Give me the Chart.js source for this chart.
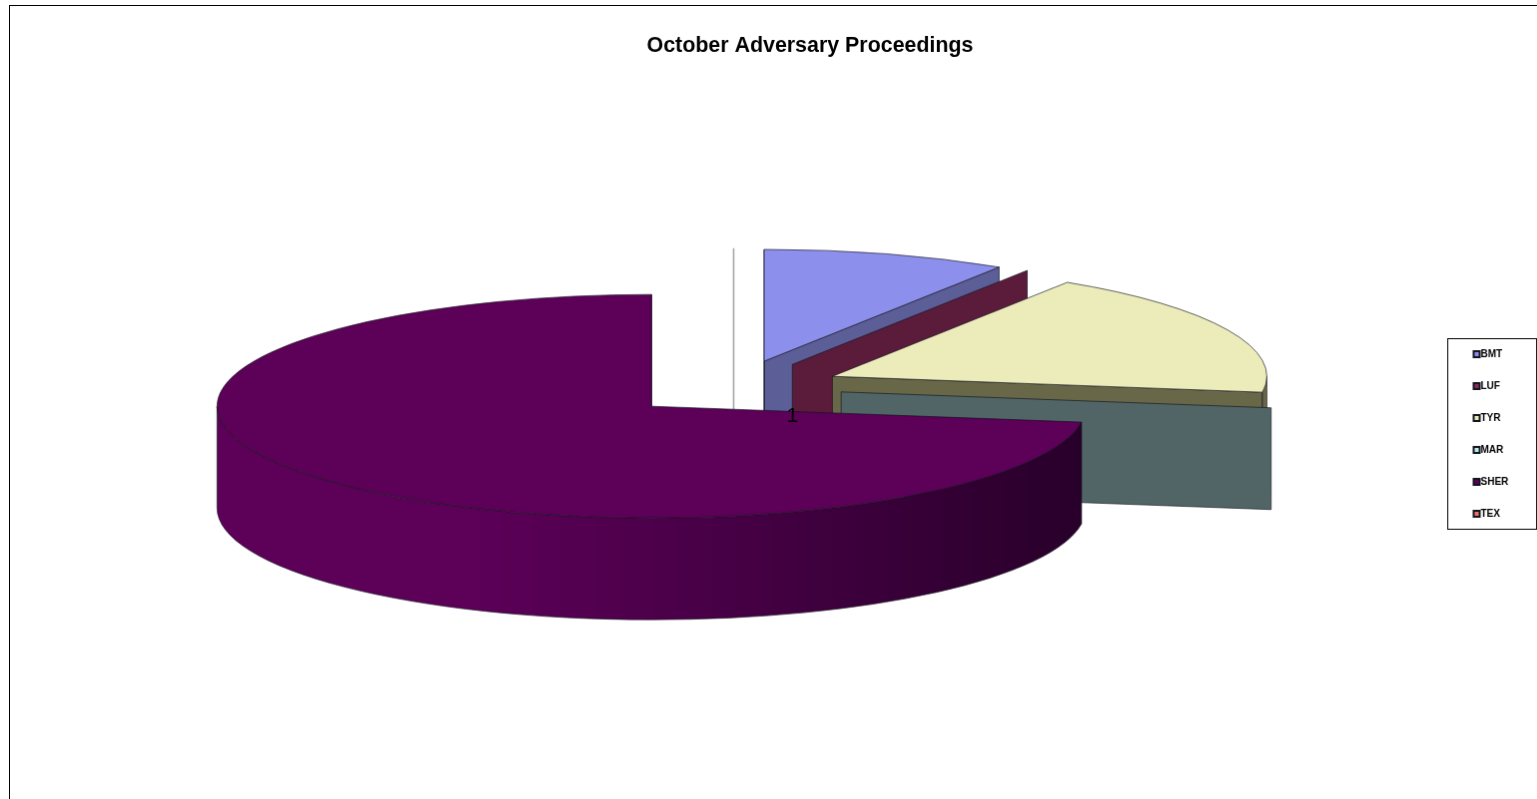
<!DOCTYPE html>
<html>
<head>
<meta charset="utf-8">
<title>October Adversary Proceedings</title>
<script src="https://cdn.jsdelivr.net/npm/chart.js@4"></script>
<style>
  html, body { margin: 0; height: 100%; overflow: hidden; background: #fff; }
  #pieCanvas { position: absolute; left: 9px; top: 5px; border: 1px solid #000; }
</style>
</head>
<body>
<canvas id="pieCanvas" width="1602" height="820"></canvas>
<script>
const categories = ["BMT", "LUF", "TYR", "MAR", "SHER", "TEX"];
const proceedings = [1, 0, 2, 0, 8, 0];
const seriesName = "1";
const topColors = ["#8d8fec", "#8c2a5e", "#ececbb", "#bcecec", "#5c0058", "#ee7468"];
const wallColors = ["#5b5e97", "#5b1c3c", "#686849", "#516566", "#28002a", "#a8a8a8"];

const squash = 112 / 435;  // ellipse height / width
const explode = 0.25;      // share of radius each slice is pulled out
const depth = 102;         // height of the pie wall
const outline = "rgba(20,20,30,0.65)";

// apex of a slice after squashing and explosion
function apex(arc) {
    const mid = (arc.startAngle + arc.endAngle) / 2;
    const off = arc.outerRadius * explode;
    return { x: arc.x + Math.cos(mid) * off, y: arc.y + Math.sin(mid) * off * squash, mid: mid };
}

function radialWall(ctx, p, arc, angle, color) {
    const rx = arc.outerRadius, ry = rx * squash;
    const ex = p.x + Math.cos(angle) * rx, ey = p.y + Math.sin(angle) * ry;
    ctx.save();
    // a zero slice seen edge-on is only a thin grey line
    if (arc.circumference === 0 && Math.abs(Math.cos(angle)) < 1e-9) {
        ctx.strokeStyle = color;
        ctx.lineWidth = 1.6;
    }
    ctx.beginPath();
    ctx.moveTo(p.x, p.y);
    ctx.lineTo(ex, ey);
    ctx.lineTo(ex, ey + depth);
    ctx.lineTo(p.x, p.y + depth);
    ctx.closePath();
    ctx.fillStyle = color;
    ctx.fill();
    ctx.stroke();
    ctx.restore();
}

function outerWall(ctx, p, arc, top, wall) {
    const a0 = Math.max(arc.startAngle, 0), a1 = Math.min(arc.endAngle, Math.PI);
    if (a1 <= a0) return;
    const rx = arc.outerRadius, ry = rx * squash;
    const grad = ctx.createLinearGradient(p.x - rx, 0, p.x + rx, 0);
    grad.addColorStop(0, top);
    grad.addColorStop(0.3, top);
    grad.addColorStop(1, wall);
    ctx.beginPath();
    ctx.ellipse(p.x, p.y, rx, ry, 0, a0, a1);
    ctx.ellipse(p.x, p.y + depth, rx, ry, 0, a1, a0, true);
    ctx.closePath();
    ctx.fillStyle = grad;
    ctx.fill();
    ctx.stroke();
}

const pie3d = {
    id: "pie3d",
    afterLayout(chart) {
        // title is centred on the whole frame, not on the pie
        chart.titleBlock.left = 0;
        chart.titleBlock.right = chart.width;
        // legend sits in its own box on the right, over the chart area
        const lg = chart.legend;
        lg.left = 1443.5; lg.right = 1527; lg.top = 322; lg.bottom = 540;
    },
    beforeDatasetDraw(chart) {
        const ctx = chart.ctx;
        const arcs = chart.getDatasetMeta(0).data.map((arc, i) => ({ arc, i, p: apex(arc) }));
        arcs.sort((a, b) => a.p.y - b.p.y);
        ctx.save();
        ctx.lineWidth = 1;
        ctx.strokeStyle = outline;
        arcs.forEach(({ arc, i, p }) => {
            if (Math.cos(arc.endAngle) > -1e-9) radialWall(ctx, p, arc, arc.endAngle, wallColors[i]);
            else if (Math.cos(arc.startAngle) < 1e-9) radialWall(ctx, p, arc, arc.startAngle, wallColors[i]);
            if (arc.circumference > 0 && Math.abs(Math.cos(arc.startAngle)) < 1e-9) radialWall(ctx, p, arc, arc.startAngle, wallColors[i]);
            outerWall(ctx, p, arc, topColors[i], wallColors[i]);
            // the real arc element, drawn through a squashed context
            ctx.save();
            ctx.translate(p.x, p.y);
            ctx.scale(1, squash);
            ctx.translate(-arc.x, -arc.y);
            arc.draw(ctx);
            ctx.restore();
            if (arc.circumference > 0) {
                ctx.beginPath();
                ctx.moveTo(p.x, p.y);
                ctx.ellipse(p.x, p.y, arc.outerRadius, arc.outerRadius * squash, 0, arc.startAngle, arc.endAngle);
                ctx.closePath();
                ctx.stroke();
            }
        });
        ctx.restore();
        return false;
    },
    afterDraw(chart) {
        const ctx = chart.ctx;
        ctx.save();
        // series label, on the wall of the LUF slice
        const p = apex(chart.getDatasetMeta(0).data[1]);
        ctx.fillStyle = "#000";
        ctx.font = "21px 'Liberation Sans'";
        ctx.textAlign = "center";
        ctx.textBaseline = "middle";
        ctx.fillText(seriesName, p.x, p.y + depth / 2 + 1);
        // legend frame and swatches
        ctx.strokeStyle = "#000";
        ctx.lineWidth = 1;
        ctx.strokeRect(1439.5, 333.5, 89, 191);
        chart.legend.legendHitBoxes.forEach((hit, i) => {
            ctx.fillStyle = topColors[i];
            ctx.strokeStyle = "#14141f";
            ctx.lineWidth = 2;
            ctx.fillRect(hit.left, hit.top + 2, 6, 6);
            ctx.strokeRect(hit.left, hit.top + 2, 6, 6);
        });
        ctx.restore();
    }
};

new Chart(document.getElementById("pieCanvas"), {
    type: "pie",
    data: {
        labels: categories,
        datasets: [{
            label: seriesName,
            data: proceedings,
            backgroundColor: topColors,
            borderWidth: 0
        }]
    },
    options: {
        responsive: false,
        animation: false,
        radius: 435,
        layout: { padding: { left: 0, right: 153, top: 0, bottom: 107 } },
        plugins: {
            tooltip: { enabled: false },
            title: {
                display: true,
                text: "October Adversary Proceedings",
                color: "#000",
                font: { family: "'Liberation Sans'", size: 21.4, weight: "bold" },
                padding: { top: 27, bottom: 0 }
            },
            legend: {
                position: "chartArea",
                align: "start",
                labels: {
                    color: "#000",
                    font: { family: "'Liberation Sans'", size: 10, weight: "bold" },
                    boxWidth: 2,
                    boxHeight: 6,
                    padding: 22,
                    generateLabels(chart) {
                        return Chart.overrides.pie.plugins.legend.labels.generateLabels(chart).map(item => {
                            item.fillStyle = "rgba(0,0,0,0)";
                            item.strokeStyle = "rgba(0,0,0,0)";
                            item.lineWidth = 0;
                            return item;
                        });
                    }
                }
            }
        }
    },
    plugins: [pie3d]
});
</script>
</body>
</html>
